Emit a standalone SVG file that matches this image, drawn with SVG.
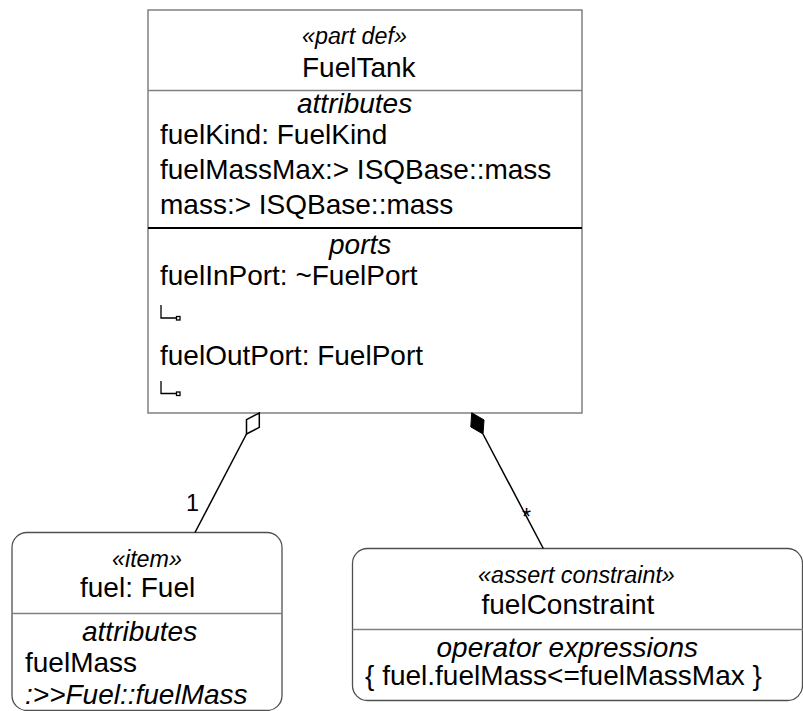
<svg xmlns="http://www.w3.org/2000/svg" width="803" height="711" viewBox="0 0 803 711">
<style>
text{font-family:"Liberation Sans",Arial,sans-serif;fill:#000;}
.t{font-size:28px;}
.it{font-size:28px;font-style:italic;}
.st{font-size:23.3px;font-style:italic;}
.lbl{font-size:23.3px;}
.box{fill:#fff;stroke:#808080;stroke-width:1.5;}
.rbox{fill:#fff;stroke:#505050;stroke-width:1.3;}
.div{stroke:#808080;stroke-width:1.3;}
.conn{stroke:#000;stroke-width:1.5;fill:none;}
</style>
<rect width="803" height="711" fill="#fff"/>
<g id="FuelTank">
<rect class="box" x="148" y="10" width="434" height="403"/>
<text class="st" x="302" y="44">«part def»</text>
<text class="t" x="302" y="77">FuelTank</text>
<line class="div" x1="148" y1="90.5" x2="582" y2="90.5"/>
<text class="it" x="297" y="113">attributes</text>
<text class="t" x="160" y="144">fuelKind: FuelKind</text>
<text class="t" x="160" y="179">fuelMassMax:&gt; ISQBase::mass</text>
<text class="t" x="160" y="214">mass:&gt; ISQBase::mass</text>
<line x1="148" y1="228" x2="582" y2="228" stroke="#000" stroke-width="2.2"/>
<text class="it" x="329" y="254">ports</text>
<text class="t" x="160" y="285">fuelInPort: ~FuelPort</text>
<path d="M161,305 V318 H176" fill="none" stroke="#000" stroke-width="1.3"/>
<rect x="176.5" y="316.5" width="3.5" height="3.5" fill="#fff" stroke="#000" stroke-width="1.3"/>
<text class="t" x="160" y="365">fuelOutPort: FuelPort</text>
<path d="M161,381 V393.5 H176" fill="none" stroke="#000" stroke-width="1.3"/>
<rect x="176.5" y="392" width="3.5" height="3.5" fill="#fff" stroke="#000" stroke-width="1.3"/>
</g>
<g id="fuel">
<rect class="rbox" x="12" y="532.5" width="270" height="178" rx="15" ry="15"/>
<text class="st" x="112" y="567">«item»</text>
<text class="t" x="80" y="597">fuel: Fuel</text>
<line class="div" x1="12" y1="613.5" x2="282" y2="613.5"/>
<text class="it" x="82" y="641">attributes</text>
<text class="t" x="25" y="672">fuelMass</text>
<text class="it" x="25" y="704">:&gt;&gt;Fuel::fuelMass</text>
</g>
<g id="fuelConstraint">
<rect class="rbox" x="352.5" y="548.5" width="450" height="152" rx="15" ry="15"/>
<text class="st" x="478" y="583">«assert constraint»</text>
<text class="t" x="481.5" y="614">fuelConstraint</text>
<line class="div" x1="352.5" y1="629.5" x2="803" y2="629.5"/>
<text class="it" x="436.5" y="657">operator expressions</text>
<text class="t" x="365" y="685">{ fuel.fuelMass&lt;=fuelMassMax }</text>
</g>
<g id="connectors">
<line class="conn" x1="246.5" y1="434" x2="195" y2="532.5"/>
<polygon points="259.3,413 259.3,427.4 246.5,434 246.5,419.6" fill="#fff" stroke="#000" stroke-width="1.5"/>
<text class="lbl" x="186" y="511">1</text>
<line class="conn" x1="483" y1="434" x2="543.3" y2="548.5"/>
<polygon points="471.7,412.8 484,419.9 483,434 470.8,426.9" fill="#000" stroke="#000" stroke-width="1"/>
<text class="lbl" x="522" y="525">*</text>
</g>
</svg>
